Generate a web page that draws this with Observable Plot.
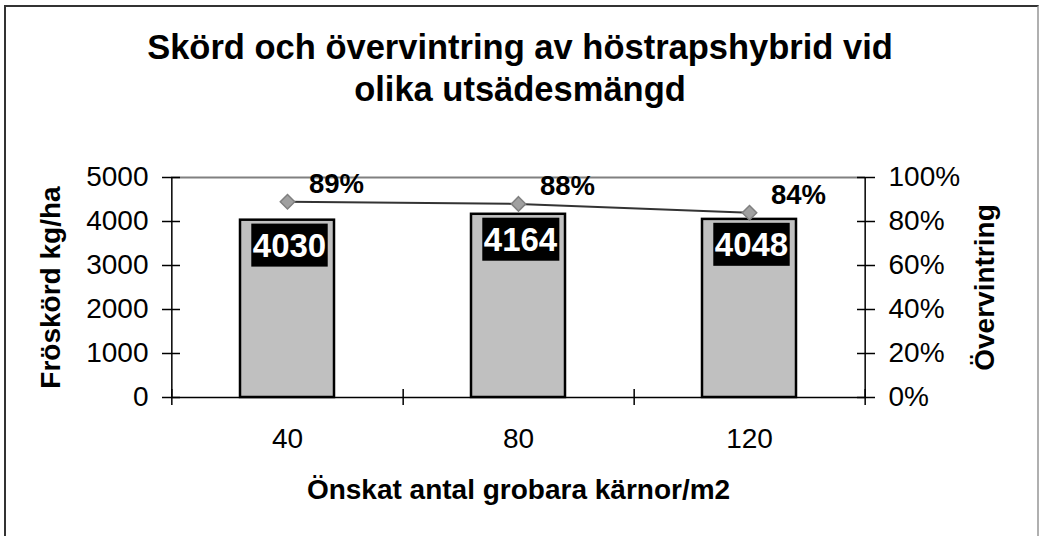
<!DOCTYPE html>
<html><head><meta charset="utf-8">
<script src="https://cdn.jsdelivr.net/npm/d3@7"></script>
<script src="https://cdn.jsdelivr.net/npm/@observablehq/plot@0.6"></script>
<style>
html,body{margin:0;padding:0;background:#fff;}
#chart{position:relative;width:1040px;height:536px;overflow:hidden;font-family:"Liberation Sans",Arial,sans-serif;background:#fff;}
#border{position:absolute;left:4px;top:5px;width:1035px;height:600px;border-left:2px solid #333;border-top:2px solid #333;border-right:2px solid #b0b0b0;box-sizing:border-box;}
#title{position:absolute;left:0;top:26px;width:1040px;text-align:center;font-weight:bold;font-size:34.5px;line-height:42px;color:#000;}
#chart svg{position:absolute;left:0;top:0;}
</style></head><body>
<div id="chart"><div id="border"></div><div id="title">Skörd och övervintring av höstrapshybrid vid<br>olika utsädesmängd</div></div>
<script>
const categories = ["40", "80", "120"];
const yieldValues = [4030, 4164, 4048];
const wintering = [89, 88, 84];
const yTicks = [0, 1000, 2000, 3000, 4000, 5000];
const pctTicks = [0, 20, 40, 60, 80, 100];
const xTitle = "Önskat antal grobara kärnor/m2";
const yTitle = "Fröskörd kg/ha";
const y2Title = "Övervintring";

const yMax = 5000;
const W = 1040, H = 536, ml = 171, mr = 175, mt = 177, mb = 139;
const pI = 0.594, pO = pI / 2;
const step = (W - ml - mr) / (categories.length - pI + 2 * pO);
const toY = p => p / 100 * yMax;
const data = categories.map((c, i) => ({c, v: yieldValues[i], p: wintering[i]}));

const chart = Plot.plot({
  width: W, height: H,
  marginLeft: ml, marginRight: mr, marginTop: mt, marginBottom: mb,
  x: {type: "band", domain: categories, paddingInner: pI, paddingOuter: pO, axis: null},
  y: {domain: [0, yMax], axis: null},
  style: {fontFamily: '"Liberation Sans", Arial, sans-serif', fontSize: "28px", background: "transparent", color: "#000", overflow: "visible"},
  marks: [
    Plot.ruleY([yMax], {stroke: "#808080", strokeWidth: 2}),
    Plot.barY(data, {x: "c", y: "v", fill: "#c0c0c0", stroke: "#000", strokeWidth: 2.5}),
    Plot.ruleY([0], {stroke: "#000", strokeWidth: 1.5}),
    Plot.ruleX([categories[0]], {dx: -step / 2, stroke: "#000", strokeWidth: 1.5}),
    Plot.ruleX([categories[categories.length - 1]], {dx: step / 2, stroke: "#000", strokeWidth: 1.5}),
    Plot.axisY(yTicks, {anchor: "left", tickSize: 18, dx: 9, tickPadding: 14, fontSize: 28, strokeWidth: 1.5, tickFormat: d => String(d), label: null}),
    Plot.axisY(pctTicks.map(toY), {anchor: "right", tickSize: 18, dx: -9, tickPadding: 14, fontSize: 28, strokeWidth: 1.5, tickFormat: d => Math.round(d / yMax * 100) + "%", label: null}),
    Plot.axisX(categories, {anchor: "bottom", tickSize: 16, dy: -8, dx: step / 2, strokeWidth: 1.5, tickFormat: () => "", label: null}),
    Plot.axisX([categories[0]], {anchor: "bottom", tickSize: 16, dy: -8, dx: -step / 2, strokeWidth: 1.5, tickFormat: () => "", label: null}),
    Plot.axisX(categories, {anchor: "bottom", tickSize: 0, tickPadding: 31, fontSize: 28, label: null}),
    Plot.line(data, {x: "c", y: d => toY(d.p), stroke: "#333", strokeWidth: 2}),
    Plot.dot(data, {x: "c", y: d => toY(d.p), symbol: "diamond2", r: 6.5, fill: "#a0a0a0", stroke: "#808080", strokeWidth: 1.5}),
    Plot.text(data, {x: "c", y: d => toY(d.p), text: d => d.p + "%", dx: 49, dy: -8.5, lineAnchor: "bottom", fontWeight: "bold", fontSize: 27.5, fill: "#000"}),
    Plot.text(data, {x: "c", y: "v", text: d => String(d.v), dx: 2, dy: 13, lineAnchor: "top", fontWeight: "bold", fontSize: 33, fill: "#fff", ariaLabel: () => "barlabel"}),
    Plot.text([xTitle], {text: d => d, frameAnchor: "bottom", lineAnchor: "bottom", dy: 101, fontWeight: "bold", fontSize: 28, fill: "#000"}),
    Plot.text([yTitle], {text: d => d, frameAnchor: "left", textAnchor: "middle", lineAnchor: "middle", rotate: -90, dx: -120, fontWeight: "bold", fontSize: 28, fill: "#000"}),
    Plot.text([y2Title], {text: d => d, frameAnchor: "right", textAnchor: "middle", lineAnchor: "middle", rotate: -90, dx: 120, fontWeight: "bold", fontSize: 28, fill: "#000"})
  ]
});
document.getElementById("chart").appendChild(chart);

// black boxes behind the bar value labels
const labels = Array.from(chart.querySelectorAll("text")).filter(t => t.getAttribute("aria-label") === "barlabel");
labels.forEach(t => {
  const b = t.getBBox();
  const r = document.createElementNS("http://www.w3.org/2000/svg", "rect");
  r.setAttribute("x", b.x - 1.5);
  r.setAttribute("y", b.y - 3);
  r.setAttribute("width", b.width + 3);
  r.setAttribute("height", b.height + 6);
  r.setAttribute("fill", "#000");
  const tr = t.getAttribute("transform");
  if (tr) r.setAttribute("transform", tr);
  t.parentNode.insertBefore(r, t);
});
</script>
</body></html>
